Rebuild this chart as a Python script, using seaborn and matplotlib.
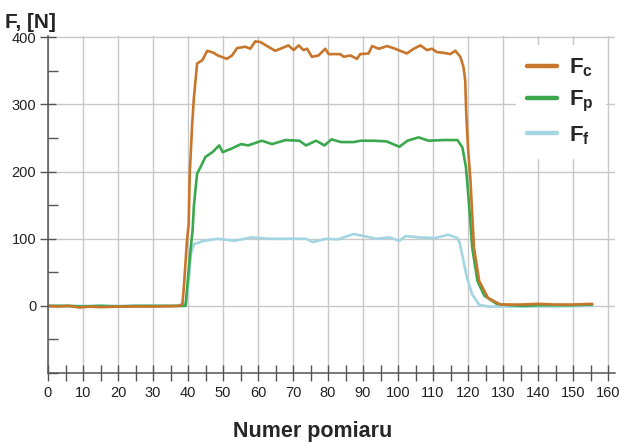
import matplotlib
matplotlib.use("Agg")
import matplotlib.pyplot as plt
import numpy as np
import pandas as pd
import seaborn as sns
from matplotlib.ticker import MultipleLocator

sns.set_style("white")
plt.rcParams.update({
    "font.family": ["Liberation Sans", "DejaVu Sans"],
    "mathtext.fontset": "custom", "mathtext.rm": "Liberation Sans:bold",
    "mathtext.it": "Liberation Sans:bold", "mathtext.bf": "Liberation Sans:bold",
    "mathtext.default": "rm",
})

FC_X = [0, 3, 6, 9, 12, 15, 20, 25, 30, 35, 37.5, 38.4, 38.8, 39.3, 39.7, 40.2, 40.5, 41.2,
        41.7, 42.6, 44.1, 45.5, 47.3, 48.5, 51.1, 52.6, 54, 56.4, 57.8, 59.2, 60.7, 62.6,
        64.9, 66.4, 68.7, 70.2, 71.6, 73, 74, 75.4, 77.3, 79.2, 80.2, 83.5, 84.5, 86.4,
        88.3, 89.2, 91.6, 92.6, 94.5, 96.9, 99.2, 102.5, 104.5, 106.4, 108.3, 109.7, 111.1,
        113, 114.9, 116.4, 117.8, 118.7, 119.2, 119.5, 120, 120.7, 121.7, 123.2, 125.7,
        129.2, 135, 140, 145, 150, 155.5]
FC_Y = [0, -1, 0, -2.5, -1, -2, -1, -1, -1, -0.5, 0, 3, 27, 65, 97, 122, 197, 271,
        311, 361, 366, 380, 377, 373, 368, 373, 384, 386, 383, 394, 393, 387,
        380, 383, 388, 381, 388, 381, 383, 371, 373, 383, 375, 375, 371, 373,
        368, 375, 376, 387, 383, 387, 383, 376, 383, 388, 381, 383, 378,
        377, 375, 380, 371, 356, 336, 286, 236, 187, 87, 37, 12,
        2, 2, 3, 2, 2, 3]

FP_X = [0, 5, 10, 15, 20, 25, 30, 35, 38, 39.3, 40, 40.6, 41.3, 41.7, 42.6, 43.6, 45, 47,
        48.9, 49.9, 52.3, 55.2, 57.2, 61.1, 64, 67.9, 71.8, 73.7, 76.6, 79, 81, 83.7, 87.4,
        89.3, 93, 96.7, 100.4, 102.7, 105.9, 108.7, 112.9, 117, 118.4, 119.4, 120.3, 121.2,
        122.7, 124.7, 128.2, 132, 136, 140, 145, 150, 155.5]
FP_Y = [0, 0, -1, 0, -1, 0, 0, 0, 0, 0, 42, 77, 112, 150, 197, 207, 222, 229,
        239, 229, 234, 241, 239, 246, 241, 247, 246, 239, 246, 239, 248, 244, 244,
        246, 246, 245, 237, 246, 251, 246, 247, 247, 236, 207, 152, 87,
        37, 15, 3, 1, 0, 1, 1, 1, 2]

FF_X = [0, 20, 38, 39.5, 40.3, 40.8, 41.7, 44.6, 48.4, 53.3, 58.1, 63, 67.9, 73.7, 75.6,
        79.5, 82.8, 85.6, 87.3, 91.1, 93.9, 97.6, 100.4, 102.2, 105.9, 110.6, 114.3, 117,
        117.6, 118.4, 119.7, 121.2, 123.2, 126, 130, 140, 155.5]
FF_Y = [0, 0, 0, 5, 42, 77, 92, 97, 100, 97, 102, 100, 100, 100, 95,
        100, 99, 104, 107, 103, 100, 102, 97, 104, 102, 101, 106, 101,
        94, 75, 42, 17, 1.5, -1, -1, -1, 0]

SERIES = ["F_c", "F_p", "F_f"]
LABELS = {"F_c": r"$F_c$", "F_p": r"$F_p$", "F_f": r"$F_f$"}
COLORS = {"F_c": "#C8762C", "F_p": "#3CA84E", "F_f": "#A3D5E3"}

df = pd.concat([
    pd.DataFrame({"n": FC_X, "F": FC_Y, "s": "F_c"}),
    pd.DataFrame({"n": FP_X, "F": FP_Y, "s": "F_p"}),
    pd.DataFrame({"n": FF_X, "F": FF_Y, "s": "F_f"}),
])

fig = plt.figure(figsize=(6.2, 4.44), dpi=100)
ax = fig.add_axes([48 / 620, 71 / 444, 567 / 620, 337 / 444])

# draw light series first so orange ends on top
for s in reversed(SERIES):
    sub = df[df.s == s]
    sns.lineplot(data=sub, x="n", y="F", ax=ax, color=COLORS[s], linewidth=1.9,
                 estimator=None, sort=False, label=LABELS[s])

ax.set_xlim(0, 162)
ax.set_ylim(-100, 402)
ax.xaxis.set_major_locator(MultipleLocator(10))
ax.xaxis.set_minor_locator(MultipleLocator(5))
ax.yaxis.set_major_locator(MultipleLocator(100))
ax.yaxis.set_minor_locator(MultipleLocator(50))
ax.set_yticks([0, 100, 200, 300, 400])
ax.set_yticklabels(["0", "100", "200", "300", "400"])
ax.grid(True, which="major", color="#C8C8C8", linewidth=1.0)
ax.set_axisbelow(True)

for side in ["top", "right"]:
    ax.spines[side].set_visible(False)
for side in ["left", "bottom"]:
    ax.spines[side].set_color("#555555")
    ax.spines[side].set_linewidth(1.1)

ax.tick_params(axis="x", which="both", bottom=True, direction="inout", length=12,
               width=1.0, color="#555555", labelsize=10.5, labelcolor="#222222", pad=3)
ax.tick_params(axis="y", which="major", left=True, direction="inout", length=11,
               width=1.0, color="#555555", labelsize=10.5, labelcolor="#222222", pad=3)
ax.tick_params(axis="y", which="minor", left=True, direction="in", length=7, width=1.0,
               color="#555555")
ax.set_xlabel("")
ax.set_ylabel("")

h, l = ax.get_legend_handles_labels()
order = [l.index(LABELS[s]) for s in SERIES]
leg = ax.legend([h[i] for i in order], [l[i] for i in order], loc="upper left",
                bbox_to_anchor=(0.805, 1.005), fontsize=16, handlelength=1.35,
                handletextpad=0.55, labelspacing=0.45, borderpad=0.5,
                frameon=True, facecolor="white", edgecolor="white", framealpha=1.0)
for line in leg.get_lines():
    line.set_linewidth(3.2)

fig.text(5 / 620, (444 - 28) / 444, "F, [N]", fontsize=15, fontweight="bold",
         ha="left", va="baseline")
fig.text(313 / 620, (444 - 437) / 444, "Numer pomiaru", fontsize=15.5, fontweight="bold",
         ha="center", va="baseline")

fig.savefig("out.png", dpi=100)
